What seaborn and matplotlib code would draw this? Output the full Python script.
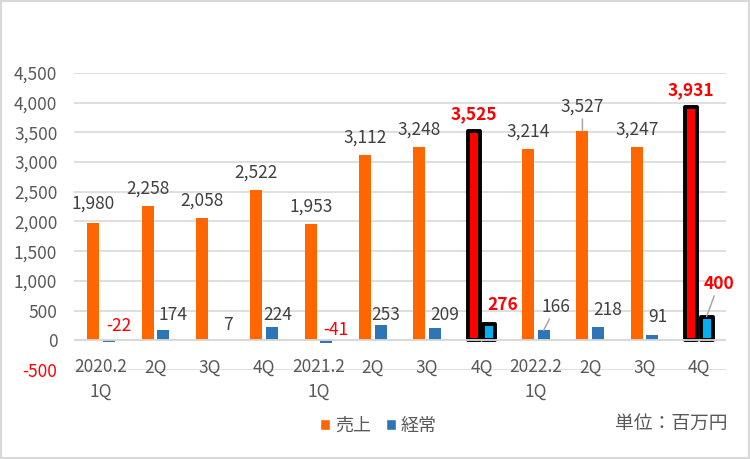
import matplotlib
matplotlib.use("Agg")
import numpy as np
import pandas as pd
import matplotlib.pyplot as plt
import seaborn as sns
from matplotlib.patches import Patch, Rectangle

# ---- data ----
periods = ["2020.2\n1Q", "2Q", "3Q", "4Q", "2021.2\n1Q", "2Q", "3Q", "4Q",
           "2022.2\n1Q", "2Q", "3Q", "4Q"]
sales = [1980, 2258, 2058, 2522, 1953, 3112, 3248, 3525, 3214, 3527, 3247, 3931]
ordinary = [-22, 174, 7, 224, -41, 253, 209, 276, 166, 218, 91, 400]
series_names = ["売上", "経常"]
highlight = [7, 11]
y_ticks = list(range(-500, 5000, 500))
unit_label = "単位：百万円"

# ---- styles ----
C_SALES = "#FF6600"
C_ORD = "#2E75B6"
C_HL_SALES = "#FF0000"
C_HL_ORD = "#00B0F0"
GRID = "#D9D9D9"
TXT = "#595959"
LAB = "#404040"

sns.set_style("white")
plt.rcParams['font.family'] = ['Noto Sans CJK JP', 'DejaVu Sans']

df = pd.DataFrame({
    "idx": list(range(len(periods))) * 2,
    "series": [series_names[0]] * len(sales) + [series_names[1]] * len(ordinary),
    "value": sales + ordinary,
})

fig = plt.figure(figsize=(7.5, 4.59), dpi=100)
ax = fig.add_axes([74 / 750, 1 - 370 / 459, 652 / 750, 297 / 459])

sns.barplot(data=df, x="idx", y="value", hue="series",
            order=list(range(len(periods))), hue_order=series_names,
            palette={series_names[0]: C_SALES, series_names[1]: C_ORD},
            saturation=1, width=0.57, gap=0.23, linewidth=0, legend=False,
            ax=ax, zorder=2)

ax.set_xlim(-0.5, len(periods) - 0.5)
ax.set_ylim(-500, 4500)
ax.set_yticks(y_ticks)
ax.set_yticklabels([f"{v:,}" for v in y_ticks])
ax.set_xticks([])
ax.set_xlabel("")
ax.set_ylabel("")
for s in ax.spines.values():
    s.set_visible(False)
ax.grid(axis="y", color=GRID, lw=1.2)
ax.set_axisbelow(True)
ax.axhline(0, color=GRID, lw=1.3, zorder=3)
ax.tick_params(axis="y", length=0, pad=12, labelsize=12.5, labelcolor=TXT)
for t, v in zip(ax.get_yticklabels(), y_ticks):
    if v < 0:
        t.set_color("#FF0000")

bars_sales = ax.containers[0]
bars_ord = ax.containers[1]

for i in highlight:
    p = bars_sales[i]
    p.set_facecolor(C_HL_SALES)
    p.set_edgecolor("black")
    p.set_linewidth(2.8)
    p.set_joinstyle("round")
    q = bars_ord[i]
    q.set_facecolor(C_HL_ORD)
    q.set_edgecolor("black")
    q.set_linewidth(2.8)
    q.set_joinstyle("round")

FS = 12.5
# label offsets (dx, dy in pixels from bar top to text baseline)
sales_off = [(0, 13.7), (0, 12.9), (0, 12.9), (0, 13.1), (0, 12.2), (0, 12.4),
             (0, 12.7), (0, 12.1), (0, 12.7), (0, 19.0), (0, 12.7), (0, 12.0)]
ord_off = [(10, 10.3), (9.5, 10), (10, 10.3), (6, 7), (9.2, 8.1), (5.2, 5.3),
           (9.7, 7.9), (14, 13.6), (12.2, 18.6), (10.1, 12.3), (5.5, 12.4), (12.2, 28)]
leader = {("s", 9), ("o", 8), ("o", 11)}

def label(container, values, offs, key):
    for i, (p, v) in enumerate(zip(container, values)):
        xc = p.get_x() + p.get_width() / 2
        dx, dy = offs[i]
        hl = i in highlight
        color = "#FF0000" if (hl or v < 0) else LAB
        weight = "bold" if hl else "normal"
        kw = {}
        if (key, i) in leader:
            kw["arrowprops"] = dict(arrowstyle="-", color="#A6A6A6", lw=1.1,
                                    shrinkA=0, shrinkB=0)
        ax.annotate(f"{v:,}", xy=(xc, v), xytext=(dx, dy), textcoords="offset pixels",
                    ha="center", va="baseline", fontsize=FS, color=color,
                    fontweight=weight, zorder=6, **kw)

label(bars_sales, sales, sales_off, "s")
label(bars_ord, ordinary, ord_off, "o")

for i, lab in enumerate(periods):
    ax.annotate(lab, xy=(i, 0), xytext=(0, -18), textcoords="offset pixels",
                ha="center", va="top", fontsize=FS, color=TXT, linespacing=1.45,
                annotation_clip=False)

handles = [Patch(facecolor=C_SALES, label=series_names[0]),
           Patch(facecolor=C_ORD, label=series_names[1])]
fig.legend(handles=handles, loc="center", bbox_to_anchor=(378.5 / 750, 1 - 426 / 459),
           ncol=2, frameon=False, fontsize=13, handlelength=0.55, handleheight=0.55,
           handletextpad=0.3, columnspacing=0.8, labelcolor=TXT)

fig.text(727 / 750, 1 - 423 / 459, unit_label, ha="right", va="center",
         fontsize=13.5, color=TXT)

fig.patches.append(Rectangle((0, 0), 1, 1, transform=fig.transFigure, fill=False,
                             edgecolor=GRID, lw=3, zorder=10))

fig.savefig("out.png", dpi=100)
